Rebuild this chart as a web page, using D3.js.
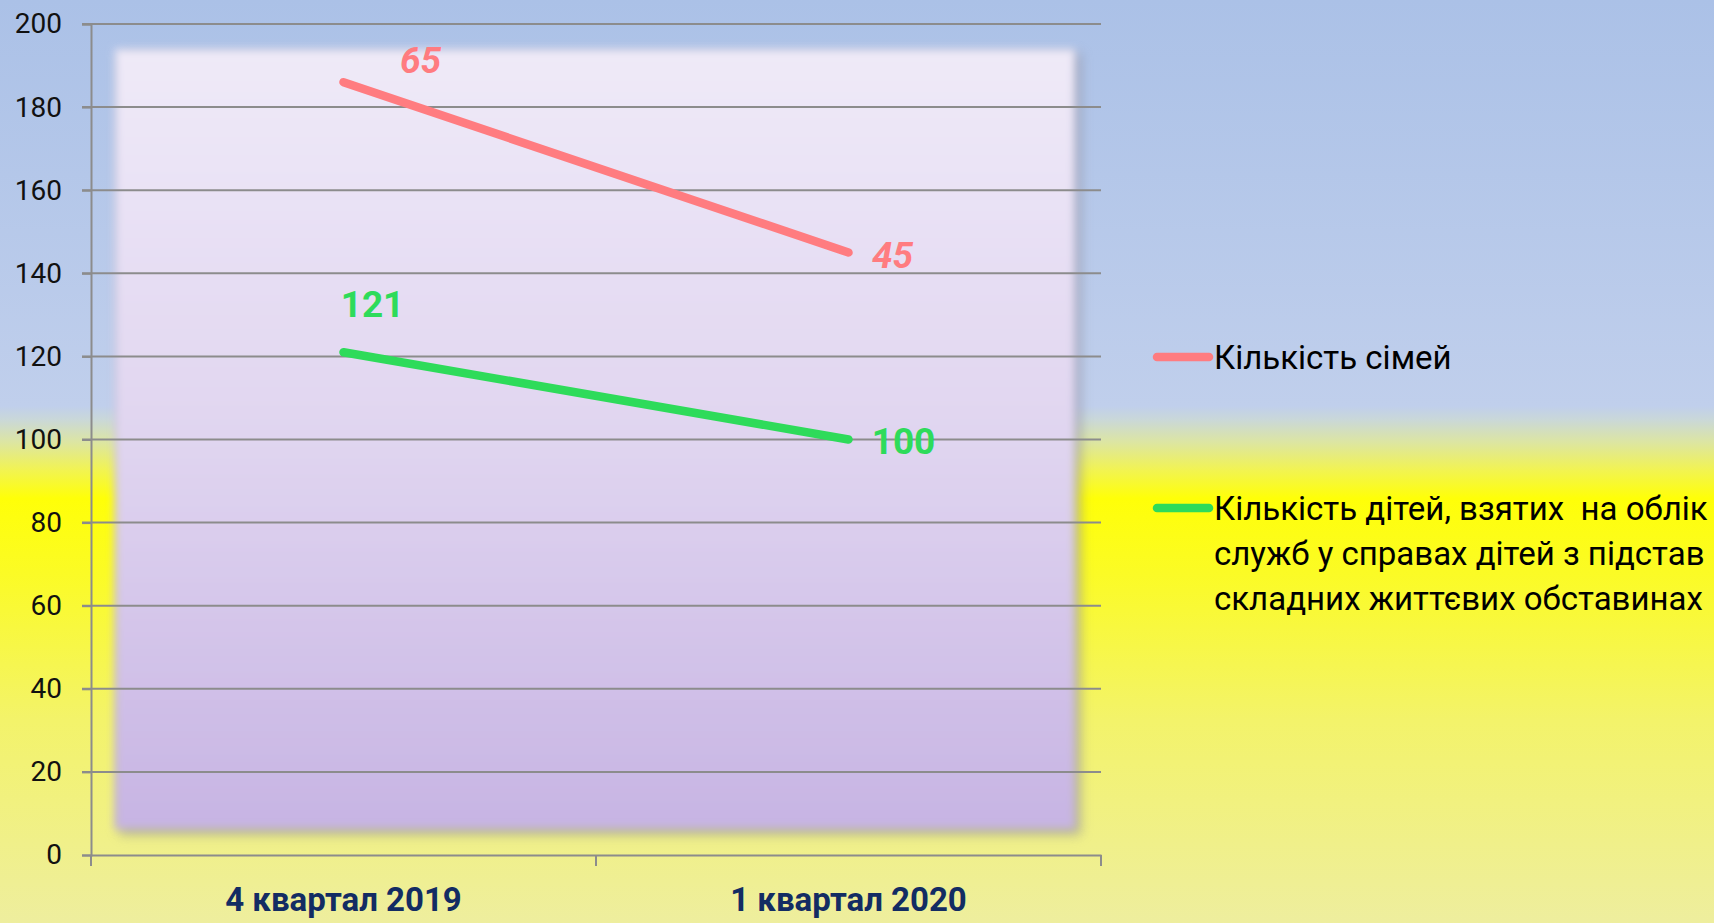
<!DOCTYPE html>
<html>
<head>
<meta charset="utf-8">
<script src="https://cdn.jsdelivr.net/npm/d3@7"></script>
<style>
  html, body { margin: 0; padding: 0; overflow: hidden; }
  svg { display: block; }
</style>
</head>
<body>
<svg id="chart" width="1714" height="923"></svg>
<script>
// ---- data ----
const categories = ["4 квартал 2019", "1 квартал 2020"];
const children = [121, 100];   // Кількість дітей ... (bottom series)
const families = [65, 45];     // Кількість сімей (stacked on top)
const yTicks = [0, 20, 40, 60, 80, 100, 120, 140, 160, 180, 200];
const legendLines = [["Кількість сімей"], ["Кількість дітей, взятих  на облік", "служб у справах дітей з підстав", "складних життєвих обставинах"]];

const W = 1714, H = 923;
const svg = d3.select("#chart");
const defs = svg.append("defs");
const FONT = "Roboto, 'Noto Sans', sans-serif";

// background gradient (blue -> yellow)
const bg = defs.append("linearGradient").attr("id", "bg").attr("x1", 0).attr("y1", 0).attr("x2", 0).attr("y2", 1);
[[0, "#abc1e7"], [0.44, "#c0cfec"], [0.455, "#cad8d8"], [0.48, "#dde6a0"], [0.51, "#f2f450"], [0.54, "#ffff08"], [0.62, "#fbfb25"], [0.78, "#f3f36a"], [1, "#eeee9e"]]
  .forEach(([o, c]) => bg.append("stop").attr("offset", o).attr("stop-color", c));
svg.append("rect").attr("width", W).attr("height", H).attr("fill", "url(#bg)");

// plot panel gradient
const pg = defs.append("linearGradient").attr("id", "panel").attr("x1", 0).attr("y1", 0).attr("x2", 0).attr("y2", 1);
[[0, "#efeaf8"], [0.5, "#e0d5f0"], [1, "#c7b4e3"]]
  .forEach(([o, c]) => pg.append("stop").attr("offset", o).attr("stop-color", c));
defs.append("filter").attr("id", "soft").attr("x", "-5%").attr("y", "-5%").attr("width", "110%").attr("height", "110%")
  .append("feGaussianBlur").attr("stdDeviation", 4);
defs.append("filter").attr("id", "shadow").attr("x", "-5%").attr("y", "-5%").attr("width", "110%").attr("height", "110%")
  .append("feGaussianBlur").attr("stdDeviation", 6);

// scales
const x = d3.scaleBand().domain(categories).range([91, 1101]).padding(0);
const y = d3.scaleLinear().domain([0, 200]).range([855, 24]);
const cx = c => x(c) + x.bandwidth() / 2;

// panel with soft shadow
svg.append("rect").attr("x", 119).attr("y", 53).attr("width", 962).attr("height", 782)
  .attr("fill", "#8a8a9a").attr("opacity", 0.55).attr("filter", "url(#shadow)");
svg.append("rect").attr("x", 115).attr("y", 49).attr("width", 960).attr("height", 780)
  .attr("fill", "url(#panel)").attr("filter", "url(#soft)");

// gridlines
svg.append("g").selectAll("line").data(yTicks.filter(d => d > 0)).join("line")
  .attr("x1", 82).attr("x2", 1101).attr("y1", d => y(d)).attr("y2", d => y(d))
  .attr("stroke", "#8c8c8c").attr("stroke-width", 2);

// y axis
const yAxis = svg.append("g").attr("transform", "translate(91,0)")
  .call(d3.axisLeft(y).tickValues(yTicks).tickSize(9).tickPadding(20));
yAxis.select(".domain").attr("stroke", "#8c8c8c").attr("stroke-width", 2);
yAxis.selectAll(".tick line").attr("stroke", "#8c8c8c").attr("stroke-width", 2);
yAxis.selectAll("text").attr("font-family", FONT).attr("font-size", 28).attr("fill", "#111");

// x axis
const xAxis = svg.append("g").attr("transform", "translate(0,855)")
  .call(d3.axisBottom(x).tickSize(0).tickPadding(33));
xAxis.select(".domain").attr("stroke", "#8c8c8c").attr("stroke-width", 2);
xAxis.selectAll("text").attr("font-family", FONT).attr("font-size", 33).attr("font-weight", "bold").attr("fill", "#132c63");
svg.append("g").selectAll("line").data([x(categories[0]), x(categories[1]), x(categories[1]) + x.bandwidth()]).join("line")
  .attr("x1", d => d).attr("x2", d => d).attr("y1", 855).attr("y2", 866)
  .attr("stroke", "#8c8c8c").attr("stroke-width", 2);

// stacked data
const table = categories.map((c, i) => ({ cat: c, children: children[i], families: families[i] }));
const stacked = d3.stack().keys(["children", "families"])(table);
const colors = { children: "#2edb5a", families: "#ff7c80" };
const line = d3.line().x(d => cx(d.data.cat)).y(d => y(d[1]));

stacked.forEach(s => {
  svg.append("path").datum(s).attr("d", line)
    .attr("fill", "none").attr("stroke", colors[s.key]).attr("stroke-width", 8.5)
    .attr("stroke-linecap", "round").attr("stroke-linejoin", "round");
});

// data labels (offsets relative to point)
const labelOffsets = {
  families: [[77, -9], [44, 15]],
  children: [[29, -35], [55, 14]]
};
stacked.forEach(s => {
  svg.append("g").selectAll("text").data(s).join("text")
    .attr("x", (d, i) => cx(d.data.cat) + labelOffsets[s.key][i][0])
    .attr("y", (d, i) => y(d[1]) + labelOffsets[s.key][i][1])
    .attr("text-anchor", "middle")
    .attr("font-family", FONT).attr("font-size", 37).attr("font-weight", "bold")
    .attr("font-style", s.key === "families" ? "italic" : "normal")
    .attr("fill", colors[s.key])
    .text(d => d.data[s.key]);
});

// legend
const legendItems = [
  { key: "families", y: 357, lines: legendLines[0] },
  { key: "children", y: 508, lines: legendLines[1] }
];
const lg = svg.append("g");
legendItems.forEach(it => {
  lg.append("line").attr("x1", 1157).attr("x2", 1209).attr("y1", it.y).attr("y2", it.y)
    .attr("stroke", colors[it.key]).attr("stroke-width", 8.5).attr("stroke-linecap", "round");
  const t = lg.append("text").attr("x", 1214).attr("y", it.y + 12)
    .attr("font-family", FONT).attr("font-size", 33).attr("fill", "#000").attr("xml:space", "preserve");
  it.lines.forEach((ln, j) => {
    t.append("tspan").attr("x", 1214).attr("dy", j === 0 ? 0 : 45).text(ln);
  });
});
</script>
</body>
</html>
